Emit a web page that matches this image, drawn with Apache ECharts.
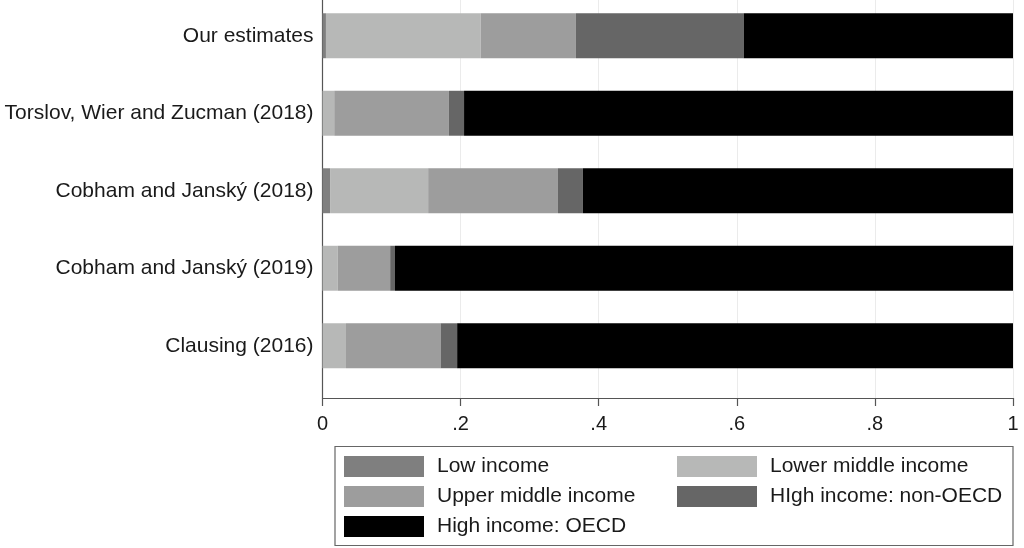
<!DOCTYPE html>
<html>
<head>
<meta charset="utf-8">
<script src="https://cdn.jsdelivr.net/npm/echarts@6/dist/echarts.min.js"></script>
<style>html,body{margin:0;padding:0;background:#fff}#c{width:1024px;height:548px}</style>
</head>
<body>
<div id="c"></div>
<script>
var categories = ["Our estimates", "Torslov, Wier and Zucman (2018)", "Cobham and Janský (2018)", "Cobham and Janský (2019)", "Clausing (2016)"];
var lowIncome = [0.005, 0.000, 0.011, 0.000, 0.000];
var lowerMiddle = [0.224, 0.017, 0.142, 0.022, 0.034];
var upperMiddle = [0.138, 0.166, 0.188, 0.076, 0.137];
var highNonOECD = [0.243, 0.022, 0.036, 0.007, 0.024];
var highOECD = [0.390, 0.795, 0.623, 0.895, 0.805];
var xTicks = [0, 0.2, 0.4, 0.6, 0.8, 1];
var xTickLabels = ["0", ".2", ".4", ".6", ".8", "1"];

var FONT = "'Liberation Sans', Arial, sans-serif";
var names = ["Low income", "Lower middle income", "Upper middle income", "HIgh income: non-OECD", "High income: OECD"];
var colors = ["#7f7f7f", "#b7b8b7", "#9d9d9d", "#666666", "#000000"];
var values = [lowIncome, lowerMiddle, upperMiddle, highNonOECD, highOECD];

var chart = echarts.init(document.getElementById('c'), null, {renderer: 'canvas'});
var series = names.map(function (n, i) {
  return {
    name: n, type: 'bar', stack: 'total', xAxisIndex: 0, yAxisIndex: 0,
    barWidth: '58%', itemStyle: {color: colors[i]}, emphasis: {disabled: true},
    data: values[i]
  };
});
var legendText = {color: '#1a1a1a', fontFamily: FONT, fontSize: 21, lineHeight: 21, padding: [0, 0, 0, 8]};
var option = {
  animation: false,
  color: colors,
  grid: [
    {left: 322.5, right: 11, top: -3, height: 387.5, containLabel: false, outerBoundsMode: 'none'},
    {left: 322.5, right: 11, top: 0, bottom: 150, containLabel: false, outerBoundsMode: 'none'}
  ],
  xAxis: [
    {gridIndex: 0, type: 'value', min: 0, max: 1, show: false},
    {gridIndex: 1, type: 'value', min: 0, max: 1, interval: 0.2,
      axisLine: {show: true, lineStyle: {color: '#555', width: 1.2}},
      axisTick: {show: true, length: 8, lineStyle: {color: '#555', width: 1.2}},
      axisLabel: {color: '#1a1a1a', fontFamily: FONT, fontSize: 20, margin: 16,
        formatter: function (v) { var k = xTicks.indexOf(Math.round(v * 10) / 10); return k >= 0 ? xTickLabels[k] : ''; }},
      splitLine: {show: true, lineStyle: {color: '#ebebeb', width: 1}}
    }
  ],
  yAxis: [
    {gridIndex: 0, type: 'category', data: categories, inverse: true,
      axisLine: {show: false}, axisTick: {show: false},
      axisLabel: {color: '#1a1a1a', fontFamily: FONT, fontSize: 21, margin: 9}},
    {gridIndex: 1, type: 'value', min: 0, max: 1,
      axisLine: {show: true, onZero: false, lineStyle: {color: '#555', width: 1.2}},
      axisTick: {show: false}, axisLabel: {show: false}, splitLine: {show: false}}
  ],
  legend: [
    {data: [names[0], names[2], names[4]], orient: 'vertical', left: 344, top: 456, height: 90, padding: 0,
      itemWidth: 80, itemHeight: 21, itemGap: 9, icon: 'rect', selectedMode: false, textStyle: legendText},
    {data: [names[1], names[3]], orient: 'vertical', left: 677, top: 456, height: 90, padding: 0,
      itemWidth: 80, itemHeight: 21, itemGap: 9, icon: 'rect', selectedMode: false, textStyle: legendText}
  ],
  graphic: [
    {type: 'rect', shape: {x: 335, y: 446.5, width: 678, height: 99}, silent: true,
      style: {fill: 'none', stroke: '#666', lineWidth: 1.2}}
  ],
  series: series
};
chart.setOption(option);
</script>
</body>
</html>
